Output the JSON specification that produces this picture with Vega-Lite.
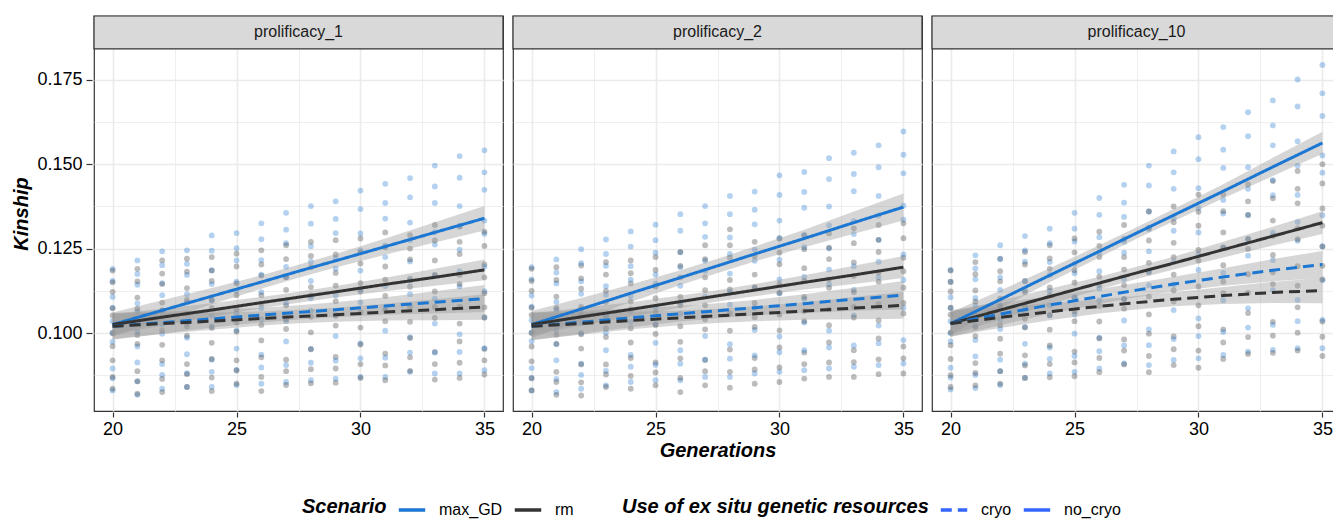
{
"$schema": "https://vega.github.io/schema/vega-lite/v6.json",
"padding": {"left": 11, "top": 14, "right": 0, "bottom": 8},
"background": "white",
"data": {"values": [
{"p":"prolificacy_1","g":20,"s":"max_GD","k":0.0830},{"p":"prolificacy_1","g":20,"s":"max_GD","k":0.0895},{"p":"prolificacy_1","g":20,"s":"max_GD","k":0.0974},{"p":"prolificacy_1","g":20,"s":"max_GD","k":0.1035},{"p":"prolificacy_1","g":20,"s":"max_GD","k":0.1107},{"p":"prolificacy_1","g":20,"s":"max_GD","k":0.1190},
{"p":"prolificacy_1","g":21,"s":"max_GD","k":0.0817},{"p":"prolificacy_1","g":21,"s":"max_GD","k":0.0913},{"p":"prolificacy_1","g":21,"s":"max_GD","k":0.0960},{"p":"prolificacy_1","g":21,"s":"max_GD","k":0.1064},{"p":"prolificacy_1","g":21,"s":"max_GD","k":0.1143},{"p":"prolificacy_1","g":21,"s":"max_GD","k":0.1215},
{"p":"prolificacy_1","g":22,"s":"max_GD","k":0.0835},{"p":"prolificacy_1","g":22,"s":"max_GD","k":0.0908},{"p":"prolificacy_1","g":22,"s":"max_GD","k":0.0998},{"p":"prolificacy_1","g":22,"s":"max_GD","k":0.1067},{"p":"prolificacy_1","g":22,"s":"max_GD","k":0.1148},{"p":"prolificacy_1","g":22,"s":"max_GD","k":0.1242},
{"p":"prolificacy_1","g":23,"s":"max_GD","k":0.0840},{"p":"prolificacy_1","g":23,"s":"max_GD","k":0.0937},{"p":"prolificacy_1","g":23,"s":"max_GD","k":0.0986},{"p":"prolificacy_1","g":23,"s":"max_GD","k":0.1091},{"p":"prolificacy_1","g":23,"s":"max_GD","k":0.1172},{"p":"prolificacy_1","g":23,"s":"max_GD","k":0.1245},
{"p":"prolificacy_1","g":24,"s":"max_GD","k":0.0840},{"p":"prolificacy_1","g":24,"s":"max_GD","k":0.0921},{"p":"prolificacy_1","g":24,"s":"max_GD","k":0.1020},{"p":"prolificacy_1","g":24,"s":"max_GD","k":0.1096},{"p":"prolificacy_1","g":24,"s":"max_GD","k":0.1186},{"p":"prolificacy_1","g":24,"s":"max_GD","k":0.1289},
{"p":"prolificacy_1","g":25,"s":"max_GD","k":0.0846},{"p":"prolificacy_1","g":25,"s":"max_GD","k":0.0954},{"p":"prolificacy_1","g":25,"s":"max_GD","k":0.1008},{"p":"prolificacy_1","g":25,"s":"max_GD","k":0.1125},{"p":"prolificacy_1","g":25,"s":"max_GD","k":0.1215},{"p":"prolificacy_1","g":25,"s":"max_GD","k":0.1296},
{"p":"prolificacy_1","g":26,"s":"max_GD","k":0.0850},{"p":"prolificacy_1","g":26,"s":"max_GD","k":0.0936},{"p":"prolificacy_1","g":26,"s":"max_GD","k":0.1040},{"p":"prolificacy_1","g":26,"s":"max_GD","k":0.1121},{"p":"prolificacy_1","g":26,"s":"max_GD","k":0.1216},{"p":"prolificacy_1","g":26,"s":"max_GD","k":0.1325},
{"p":"prolificacy_1","g":27,"s":"max_GD","k":0.0855},{"p":"prolificacy_1","g":27,"s":"max_GD","k":0.0975},{"p":"prolificacy_1","g":27,"s":"max_GD","k":0.1035},{"p":"prolificacy_1","g":27,"s":"max_GD","k":0.1166},{"p":"prolificacy_1","g":27,"s":"max_GD","k":0.1266},{"p":"prolificacy_1","g":27,"s":"max_GD","k":0.1356},
{"p":"prolificacy_1","g":28,"s":"max_GD","k":0.0860},{"p":"prolificacy_1","g":28,"s":"max_GD","k":0.0953},{"p":"prolificacy_1","g":28,"s":"max_GD","k":0.1066},{"p":"prolificacy_1","g":28,"s":"max_GD","k":0.1154},{"p":"prolificacy_1","g":28,"s":"max_GD","k":0.1257},{"p":"prolificacy_1","g":28,"s":"max_GD","k":0.1376},
{"p":"prolificacy_1","g":29,"s":"max_GD","k":0.0865},{"p":"prolificacy_1","g":29,"s":"max_GD","k":0.0991},{"p":"prolificacy_1","g":29,"s":"max_GD","k":0.1054},{"p":"prolificacy_1","g":29,"s":"max_GD","k":0.1191},{"p":"prolificacy_1","g":29,"s":"max_GD","k":0.1296},{"p":"prolificacy_1","g":29,"s":"max_GD","k":0.1390},
{"p":"prolificacy_1","g":30,"s":"max_GD","k":0.0870},{"p":"prolificacy_1","g":30,"s":"max_GD","k":0.0969},{"p":"prolificacy_1","g":30,"s":"max_GD","k":0.1091},{"p":"prolificacy_1","g":30,"s":"max_GD","k":0.1185},{"p":"prolificacy_1","g":30,"s":"max_GD","k":0.1295},{"p":"prolificacy_1","g":30,"s":"max_GD","k":0.1422},
{"p":"prolificacy_1","g":31,"s":"max_GD","k":0.0870},{"p":"prolificacy_1","g":31,"s":"max_GD","k":0.1007},{"p":"prolificacy_1","g":31,"s":"max_GD","k":0.1076},{"p":"prolificacy_1","g":31,"s":"max_GD","k":0.1225},{"p":"prolificacy_1","g":31,"s":"max_GD","k":0.1339},{"p":"prolificacy_1","g":31,"s":"max_GD","k":0.1442},
{"p":"prolificacy_1","g":32,"s":"max_GD","k":0.0885},{"p":"prolificacy_1","g":32,"s":"max_GD","k":0.0988},{"p":"prolificacy_1","g":32,"s":"max_GD","k":0.1115},{"p":"prolificacy_1","g":32,"s":"max_GD","k":0.1212},{"p":"prolificacy_1","g":32,"s":"max_GD","k":0.1327},{"p":"prolificacy_1","g":32,"s":"max_GD","k":0.1459},
{"p":"prolificacy_1","g":33,"s":"max_GD","k":0.0880},{"p":"prolificacy_1","g":33,"s":"max_GD","k":0.1028},{"p":"prolificacy_1","g":33,"s":"max_GD","k":0.1102},{"p":"prolificacy_1","g":33,"s":"max_GD","k":0.1262},{"p":"prolificacy_1","g":33,"s":"max_GD","k":0.1385},{"p":"prolificacy_1","g":33,"s":"max_GD","k":0.1496},
{"p":"prolificacy_1","g":34,"s":"max_GD","k":0.0880},{"p":"prolificacy_1","g":34,"s":"max_GD","k":0.0996},{"p":"prolificacy_1","g":34,"s":"max_GD","k":0.1138},{"p":"prolificacy_1","g":34,"s":"max_GD","k":0.1247},{"p":"prolificacy_1","g":34,"s":"max_GD","k":0.1376},{"p":"prolificacy_1","g":34,"s":"max_GD","k":0.1524},
{"p":"prolificacy_1","g":35,"s":"max_GD","k":0.0890},{"p":"prolificacy_1","g":35,"s":"max_GD","k":0.1046},{"p":"prolificacy_1","g":35,"s":"max_GD","k":0.1124},{"p":"prolificacy_1","g":35,"s":"max_GD","k":0.1294},{"p":"prolificacy_1","g":35,"s":"max_GD","k":0.1424},{"p":"prolificacy_1","g":35,"s":"max_GD","k":0.1541},
{"p":"prolificacy_1","g":20,"s":"rm","k":0.0835},{"p":"prolificacy_1","g":20,"s":"rm","k":0.0919},{"p":"prolificacy_1","g":20,"s":"rm","k":0.0961},{"p":"prolificacy_1","g":20,"s":"rm","k":0.1052},{"p":"prolificacy_1","g":20,"s":"rm","k":0.1122},{"p":"prolificacy_1","g":20,"s":"rm","k":0.1185},
{"p":"prolificacy_1","g":21,"s":"rm","k":0.0820},{"p":"prolificacy_1","g":21,"s":"rm","k":0.0887},{"p":"prolificacy_1","g":21,"s":"rm","k":0.0968},{"p":"prolificacy_1","g":21,"s":"rm","k":0.1031},{"p":"prolificacy_1","g":21,"s":"rm","k":0.1105},{"p":"prolificacy_1","g":21,"s":"rm","k":0.1190},
{"p":"prolificacy_1","g":22,"s":"rm","k":0.0825},{"p":"prolificacy_1","g":22,"s":"rm","k":0.0919},{"p":"prolificacy_1","g":22,"s":"rm","k":0.0965},{"p":"prolificacy_1","g":22,"s":"rm","k":0.1067},{"p":"prolificacy_1","g":22,"s":"rm","k":0.1145},{"p":"prolificacy_1","g":22,"s":"rm","k":0.1215},
{"p":"prolificacy_1","g":23,"s":"rm","k":0.0840},{"p":"prolificacy_1","g":23,"s":"rm","k":0.0908},{"p":"prolificacy_1","g":23,"s":"rm","k":0.0992},{"p":"prolificacy_1","g":23,"s":"rm","k":0.1057},{"p":"prolificacy_1","g":23,"s":"rm","k":0.1133},{"p":"prolificacy_1","g":23,"s":"rm","k":0.1220},
{"p":"prolificacy_1","g":24,"s":"rm","k":0.0828},{"p":"prolificacy_1","g":24,"s":"rm","k":0.0923},{"p":"prolificacy_1","g":24,"s":"rm","k":0.0971},{"p":"prolificacy_1","g":24,"s":"rm","k":0.1074},{"p":"prolificacy_1","g":24,"s":"rm","k":0.1154},{"p":"prolificacy_1","g":24,"s":"rm","k":0.1225},
{"p":"prolificacy_1","g":25,"s":"rm","k":0.0850},{"p":"prolificacy_1","g":25,"s":"rm","k":0.0919},{"p":"prolificacy_1","g":25,"s":"rm","k":0.1004},{"p":"prolificacy_1","g":25,"s":"rm","k":0.1070},{"p":"prolificacy_1","g":25,"s":"rm","k":0.1147},{"p":"prolificacy_1","g":25,"s":"rm","k":0.1235},
{"p":"prolificacy_1","g":26,"s":"rm","k":0.0828},{"p":"prolificacy_1","g":26,"s":"rm","k":0.0928},{"p":"prolificacy_1","g":26,"s":"rm","k":0.0978},{"p":"prolificacy_1","g":26,"s":"rm","k":0.1087},{"p":"prolificacy_1","g":26,"s":"rm","k":0.1170},{"p":"prolificacy_1","g":26,"s":"rm","k":0.1245},
{"p":"prolificacy_1","g":27,"s":"rm","k":0.0846},{"p":"prolificacy_1","g":27,"s":"rm","k":0.0921},{"p":"prolificacy_1","g":27,"s":"rm","k":0.1012},{"p":"prolificacy_1","g":27,"s":"rm","k":0.1082},{"p":"prolificacy_1","g":27,"s":"rm","k":0.1165},{"p":"prolificacy_1","g":27,"s":"rm","k":0.1260},
{"p":"prolificacy_1","g":28,"s":"rm","k":0.0851},{"p":"prolificacy_1","g":28,"s":"rm","k":0.0952},{"p":"prolificacy_1","g":28,"s":"rm","k":0.1002},{"p":"prolificacy_1","g":28,"s":"rm","k":0.1111},{"p":"prolificacy_1","g":28,"s":"rm","k":0.1195},{"p":"prolificacy_1","g":28,"s":"rm","k":0.1270},
{"p":"prolificacy_1","g":29,"s":"rm","k":0.0853},{"p":"prolificacy_1","g":29,"s":"rm","k":0.0929},{"p":"prolificacy_1","g":29,"s":"rm","k":0.1022},{"p":"prolificacy_1","g":29,"s":"rm","k":0.1094},{"p":"prolificacy_1","g":29,"s":"rm","k":0.1178},{"p":"prolificacy_1","g":29,"s":"rm","k":0.1275},
{"p":"prolificacy_1","g":30,"s":"rm","k":0.0867},{"p":"prolificacy_1","g":30,"s":"rm","k":0.0966},{"p":"prolificacy_1","g":30,"s":"rm","k":0.1016},{"p":"prolificacy_1","g":30,"s":"rm","k":0.1123},{"p":"prolificacy_1","g":30,"s":"rm","k":0.1206},{"p":"prolificacy_1","g":30,"s":"rm","k":0.1280},
{"p":"prolificacy_1","g":31,"s":"rm","k":0.0860},{"p":"prolificacy_1","g":31,"s":"rm","k":0.0939},{"p":"prolificacy_1","g":31,"s":"rm","k":0.1035},{"p":"prolificacy_1","g":31,"s":"rm","k":0.1110},{"p":"prolificacy_1","g":31,"s":"rm","k":0.1197},{"p":"prolificacy_1","g":31,"s":"rm","k":0.1298},
{"p":"prolificacy_1","g":32,"s":"rm","k":0.0888},{"p":"prolificacy_1","g":32,"s":"rm","k":0.0985},{"p":"prolificacy_1","g":32,"s":"rm","k":0.1033},{"p":"prolificacy_1","g":32,"s":"rm","k":0.1137},{"p":"prolificacy_1","g":32,"s":"rm","k":0.1218},{"p":"prolificacy_1","g":32,"s":"rm","k":0.1290},
{"p":"prolificacy_1","g":33,"s":"rm","k":0.0862},{"p":"prolificacy_1","g":33,"s":"rm","k":0.0944},{"p":"prolificacy_1","g":33,"s":"rm","k":0.1045},{"p":"prolificacy_1","g":33,"s":"rm","k":0.1123},{"p":"prolificacy_1","g":33,"s":"rm","k":0.1215},{"p":"prolificacy_1","g":33,"s":"rm","k":0.1320},
{"p":"prolificacy_1","g":34,"s":"rm","k":0.0867},{"p":"prolificacy_1","g":34,"s":"rm","k":0.0975},{"p":"prolificacy_1","g":34,"s":"rm","k":0.1028},{"p":"prolificacy_1","g":34,"s":"rm","k":0.1145},{"p":"prolificacy_1","g":34,"s":"rm","k":0.1234},{"p":"prolificacy_1","g":34,"s":"rm","k":0.1315},
{"p":"prolificacy_1","g":35,"s":"rm","k":0.0877},{"p":"prolificacy_1","g":35,"s":"rm","k":0.0953},{"p":"prolificacy_1","g":35,"s":"rm","k":0.1046},{"p":"prolificacy_1","g":35,"s":"rm","k":0.1118},{"p":"prolificacy_1","g":35,"s":"rm","k":0.1203},{"p":"prolificacy_1","g":35,"s":"rm","k":0.1300},
{"p":"prolificacy_2","g":20,"s":"max_GD","k":0.0830},{"p":"prolificacy_2","g":20,"s":"max_GD","k":0.0896},{"p":"prolificacy_2","g":20,"s":"max_GD","k":0.0976},{"p":"prolificacy_2","g":20,"s":"max_GD","k":0.1038},{"p":"prolificacy_2","g":20,"s":"max_GD","k":0.1111},{"p":"prolificacy_2","g":20,"s":"max_GD","k":0.1195},
{"p":"prolificacy_2","g":21,"s":"max_GD","k":0.0825},{"p":"prolificacy_2","g":21,"s":"max_GD","k":0.0919},{"p":"prolificacy_2","g":21,"s":"max_GD","k":0.0967},{"p":"prolificacy_2","g":21,"s":"max_GD","k":0.1069},{"p":"prolificacy_2","g":21,"s":"max_GD","k":0.1147},{"p":"prolificacy_2","g":21,"s":"max_GD","k":0.1218},
{"p":"prolificacy_2","g":22,"s":"max_GD","k":0.0835},{"p":"prolificacy_2","g":22,"s":"max_GD","k":0.0909},{"p":"prolificacy_2","g":22,"s":"max_GD","k":0.1000},{"p":"prolificacy_2","g":22,"s":"max_GD","k":0.1070},{"p":"prolificacy_2","g":22,"s":"max_GD","k":0.1153},{"p":"prolificacy_2","g":22,"s":"max_GD","k":0.1248},
{"p":"prolificacy_2","g":23,"s":"max_GD","k":0.0845},{"p":"prolificacy_2","g":23,"s":"max_GD","k":0.0949},{"p":"prolificacy_2","g":23,"s":"max_GD","k":0.1001},{"p":"prolificacy_2","g":23,"s":"max_GD","k":0.1113},{"p":"prolificacy_2","g":23,"s":"max_GD","k":0.1199},{"p":"prolificacy_2","g":23,"s":"max_GD","k":0.1277},
{"p":"prolificacy_2","g":24,"s":"max_GD","k":0.0855},{"p":"prolificacy_2","g":24,"s":"max_GD","k":0.0935},{"p":"prolificacy_2","g":24,"s":"max_GD","k":0.1033},{"p":"prolificacy_2","g":24,"s":"max_GD","k":0.1109},{"p":"prolificacy_2","g":24,"s":"max_GD","k":0.1198},{"p":"prolificacy_2","g":24,"s":"max_GD","k":0.1301},
{"p":"prolificacy_2","g":25,"s":"max_GD","k":0.0860},{"p":"prolificacy_2","g":25,"s":"max_GD","k":0.0971},{"p":"prolificacy_2","g":25,"s":"max_GD","k":0.1026},{"p":"prolificacy_2","g":25,"s":"max_GD","k":0.1146},{"p":"prolificacy_2","g":25,"s":"max_GD","k":0.1238},{"p":"prolificacy_2","g":25,"s":"max_GD","k":0.1321},
{"p":"prolificacy_2","g":26,"s":"max_GD","k":0.0860},{"p":"prolificacy_2","g":26,"s":"max_GD","k":0.0949},{"p":"prolificacy_2","g":26,"s":"max_GD","k":0.1057},{"p":"prolificacy_2","g":26,"s":"max_GD","k":0.1140},{"p":"prolificacy_2","g":26,"s":"max_GD","k":0.1239},{"p":"prolificacy_2","g":26,"s":"max_GD","k":0.1352},
{"p":"prolificacy_2","g":27,"s":"max_GD","k":0.0870},{"p":"prolificacy_2","g":27,"s":"max_GD","k":0.0991},{"p":"prolificacy_2","g":27,"s":"max_GD","k":0.1052},{"p":"prolificacy_2","g":27,"s":"max_GD","k":0.1184},{"p":"prolificacy_2","g":27,"s":"max_GD","k":0.1285},{"p":"prolificacy_2","g":27,"s":"max_GD","k":0.1376},
{"p":"prolificacy_2","g":28,"s":"max_GD","k":0.0870},{"p":"prolificacy_2","g":28,"s":"max_GD","k":0.0967},{"p":"prolificacy_2","g":28,"s":"max_GD","k":0.1084},{"p":"prolificacy_2","g":28,"s":"max_GD","k":0.1176},{"p":"prolificacy_2","g":28,"s":"max_GD","k":0.1283},{"p":"prolificacy_2","g":28,"s":"max_GD","k":0.1406},
{"p":"prolificacy_2","g":29,"s":"max_GD","k":0.0880},{"p":"prolificacy_2","g":29,"s":"max_GD","k":0.1009},{"p":"prolificacy_2","g":29,"s":"max_GD","k":0.1074},{"p":"prolificacy_2","g":29,"s":"max_GD","k":0.1214},{"p":"prolificacy_2","g":29,"s":"max_GD","k":0.1322},{"p":"prolificacy_2","g":29,"s":"max_GD","k":0.1419},
{"p":"prolificacy_2","g":30,"s":"max_GD","k":0.0885},{"p":"prolificacy_2","g":30,"s":"max_GD","k":0.0990},{"p":"prolificacy_2","g":30,"s":"max_GD","k":0.1118},{"p":"prolificacy_2","g":30,"s":"max_GD","k":0.1217},{"p":"prolificacy_2","g":30,"s":"max_GD","k":0.1333},{"p":"prolificacy_2","g":30,"s":"max_GD","k":0.1467},
{"p":"prolificacy_2","g":31,"s":"max_GD","k":0.0890},{"p":"prolificacy_2","g":31,"s":"max_GD","k":0.1031},{"p":"prolificacy_2","g":31,"s":"max_GD","k":0.1101},{"p":"prolificacy_2","g":31,"s":"max_GD","k":0.1254},{"p":"prolificacy_2","g":31,"s":"max_GD","k":0.1371},{"p":"prolificacy_2","g":31,"s":"max_GD","k":0.1477},
{"p":"prolificacy_2","g":32,"s":"max_GD","k":0.0895},{"p":"prolificacy_2","g":32,"s":"max_GD","k":0.1007},{"p":"prolificacy_2","g":32,"s":"max_GD","k":0.1144},{"p":"prolificacy_2","g":32,"s":"max_GD","k":0.1250},{"p":"prolificacy_2","g":32,"s":"max_GD","k":0.1375},{"p":"prolificacy_2","g":32,"s":"max_GD","k":0.1518},
{"p":"prolificacy_2","g":33,"s":"max_GD","k":0.0900},{"p":"prolificacy_2","g":33,"s":"max_GD","k":0.1052},{"p":"prolificacy_2","g":33,"s":"max_GD","k":0.1128},{"p":"prolificacy_2","g":33,"s":"max_GD","k":0.1293},{"p":"prolificacy_2","g":33,"s":"max_GD","k":0.1420},{"p":"prolificacy_2","g":33,"s":"max_GD","k":0.1534},
{"p":"prolificacy_2","g":34,"s":"max_GD","k":0.0905},{"p":"prolificacy_2","g":34,"s":"max_GD","k":0.1022},{"p":"prolificacy_2","g":34,"s":"max_GD","k":0.1165},{"p":"prolificacy_2","g":34,"s":"max_GD","k":0.1276},{"p":"prolificacy_2","g":34,"s":"max_GD","k":0.1406},{"p":"prolificacy_2","g":34,"s":"max_GD","k":0.1556},
{"p":"prolificacy_2","g":35,"s":"max_GD","k":0.0910},{"p":"prolificacy_2","g":35,"s":"max_GD","k":0.1075},{"p":"prolificacy_2","g":35,"s":"max_GD","k":0.1157},{"p":"prolificacy_2","g":35,"s":"max_GD","k":0.1336},{"p":"prolificacy_2","g":35,"s":"max_GD","k":0.1473},{"p":"prolificacy_2","g":35,"s":"max_GD","k":0.1597},
{"p":"prolificacy_2","g":20,"s":"rm","k":0.0830},{"p":"prolificacy_2","g":20,"s":"rm","k":0.0916},{"p":"prolificacy_2","g":20,"s":"rm","k":0.0960},{"p":"prolificacy_2","g":20,"s":"rm","k":0.1053},{"p":"prolificacy_2","g":20,"s":"rm","k":0.1125},{"p":"prolificacy_2","g":20,"s":"rm","k":0.1190},
{"p":"prolificacy_2","g":21,"s":"rm","k":0.0817},{"p":"prolificacy_2","g":21,"s":"rm","k":0.0885},{"p":"prolificacy_2","g":21,"s":"rm","k":0.0968},{"p":"prolificacy_2","g":21,"s":"rm","k":0.1033},{"p":"prolificacy_2","g":21,"s":"rm","k":0.1108},{"p":"prolificacy_2","g":21,"s":"rm","k":0.1195},
{"p":"prolificacy_2","g":22,"s":"rm","k":0.0815},{"p":"prolificacy_2","g":22,"s":"rm","k":0.0907},{"p":"prolificacy_2","g":22,"s":"rm","k":0.0954},{"p":"prolificacy_2","g":22,"s":"rm","k":0.1054},{"p":"prolificacy_2","g":22,"s":"rm","k":0.1131},{"p":"prolificacy_2","g":22,"s":"rm","k":0.1200},
{"p":"prolificacy_2","g":23,"s":"rm","k":0.0840},{"p":"prolificacy_2","g":23,"s":"rm","k":0.0907},{"p":"prolificacy_2","g":23,"s":"rm","k":0.0988},{"p":"prolificacy_2","g":23,"s":"rm","k":0.1051},{"p":"prolificacy_2","g":23,"s":"rm","k":0.1125},{"p":"prolificacy_2","g":23,"s":"rm","k":0.1210},
{"p":"prolificacy_2","g":24,"s":"rm","k":0.0835},{"p":"prolificacy_2","g":24,"s":"rm","k":0.0926},{"p":"prolificacy_2","g":24,"s":"rm","k":0.0972},{"p":"prolificacy_2","g":24,"s":"rm","k":0.1071},{"p":"prolificacy_2","g":24,"s":"rm","k":0.1147},{"p":"prolificacy_2","g":24,"s":"rm","k":0.1215},
{"p":"prolificacy_2","g":25,"s":"rm","k":0.0845},{"p":"prolificacy_2","g":25,"s":"rm","k":0.0913},{"p":"prolificacy_2","g":25,"s":"rm","k":0.0997},{"p":"prolificacy_2","g":25,"s":"rm","k":0.1062},{"p":"prolificacy_2","g":25,"s":"rm","k":0.1138},{"p":"prolificacy_2","g":25,"s":"rm","k":0.1225},
{"p":"prolificacy_2","g":26,"s":"rm","k":0.0825},{"p":"prolificacy_2","g":26,"s":"rm","k":0.0925},{"p":"prolificacy_2","g":26,"s":"rm","k":0.0974},{"p":"prolificacy_2","g":26,"s":"rm","k":0.1082},{"p":"prolificacy_2","g":26,"s":"rm","k":0.1165},{"p":"prolificacy_2","g":26,"s":"rm","k":0.1240},
{"p":"prolificacy_2","g":27,"s":"rm","k":0.0845},{"p":"prolificacy_2","g":27,"s":"rm","k":0.0920},{"p":"prolificacy_2","g":27,"s":"rm","k":0.1011},{"p":"prolificacy_2","g":27,"s":"rm","k":0.1082},{"p":"prolificacy_2","g":27,"s":"rm","k":0.1165},{"p":"prolificacy_2","g":27,"s":"rm","k":0.1260},
{"p":"prolificacy_2","g":28,"s":"rm","k":0.0838},{"p":"prolificacy_2","g":28,"s":"rm","k":0.0951},{"p":"prolificacy_2","g":28,"s":"rm","k":0.1007},{"p":"prolificacy_2","g":28,"s":"rm","k":0.1129},{"p":"prolificacy_2","g":28,"s":"rm","k":0.1223},{"p":"prolificacy_2","g":28,"s":"rm","k":0.1307},
{"p":"prolificacy_2","g":29,"s":"rm","k":0.0850},{"p":"prolificacy_2","g":29,"s":"rm","k":0.0926},{"p":"prolificacy_2","g":29,"s":"rm","k":0.1018},{"p":"prolificacy_2","g":29,"s":"rm","k":0.1089},{"p":"prolificacy_2","g":29,"s":"rm","k":0.1173},{"p":"prolificacy_2","g":29,"s":"rm","k":0.1270},
{"p":"prolificacy_2","g":30,"s":"rm","k":0.0855},{"p":"prolificacy_2","g":30,"s":"rm","k":0.0957},{"p":"prolificacy_2","g":30,"s":"rm","k":0.1008},{"p":"prolificacy_2","g":30,"s":"rm","k":0.1119},{"p":"prolificacy_2","g":30,"s":"rm","k":0.1204},{"p":"prolificacy_2","g":30,"s":"rm","k":0.1280},
{"p":"prolificacy_2","g":31,"s":"rm","k":0.0865},{"p":"prolificacy_2","g":31,"s":"rm","k":0.0942},{"p":"prolificacy_2","g":31,"s":"rm","k":0.1035},{"p":"prolificacy_2","g":31,"s":"rm","k":0.1107},{"p":"prolificacy_2","g":31,"s":"rm","k":0.1192},{"p":"prolificacy_2","g":31,"s":"rm","k":0.1290},
{"p":"prolificacy_2","g":32,"s":"rm","k":0.0870},{"p":"prolificacy_2","g":32,"s":"rm","k":0.0972},{"p":"prolificacy_2","g":32,"s":"rm","k":0.1023},{"p":"prolificacy_2","g":32,"s":"rm","k":0.1134},{"p":"prolificacy_2","g":32,"s":"rm","k":0.1219},{"p":"prolificacy_2","g":32,"s":"rm","k":0.1295},
{"p":"prolificacy_2","g":33,"s":"rm","k":0.0870},{"p":"prolificacy_2","g":33,"s":"rm","k":0.0949},{"p":"prolificacy_2","g":33,"s":"rm","k":0.1046},{"p":"prolificacy_2","g":33,"s":"rm","k":0.1121},{"p":"prolificacy_2","g":33,"s":"rm","k":0.1209},{"p":"prolificacy_2","g":33,"s":"rm","k":0.1310},
{"p":"prolificacy_2","g":34,"s":"rm","k":0.0878},{"p":"prolificacy_2","g":34,"s":"rm","k":0.0984},{"p":"prolificacy_2","g":34,"s":"rm","k":0.1037},{"p":"prolificacy_2","g":34,"s":"rm","k":0.1152},{"p":"prolificacy_2","g":34,"s":"rm","k":0.1240},{"p":"prolificacy_2","g":34,"s":"rm","k":0.1320},
{"p":"prolificacy_2","g":35,"s":"rm","k":0.0880},{"p":"prolificacy_2","g":35,"s":"rm","k":0.0960},{"p":"prolificacy_2","g":35,"s":"rm","k":0.1058},{"p":"prolificacy_2","g":35,"s":"rm","k":0.1134},{"p":"prolificacy_2","g":35,"s":"rm","k":0.1223},{"p":"prolificacy_2","g":35,"s":"rm","k":0.1325},
{"p":"prolificacy_10","g":20,"s":"max_GD","k":0.0833},{"p":"prolificacy_10","g":20,"s":"max_GD","k":0.0897},{"p":"prolificacy_10","g":20,"s":"max_GD","k":0.0975},{"p":"prolificacy_10","g":20,"s":"max_GD","k":0.1035},{"p":"prolificacy_10","g":20,"s":"max_GD","k":0.1106},{"p":"prolificacy_10","g":20,"s":"max_GD","k":0.1187},
{"p":"prolificacy_10","g":21,"s":"max_GD","k":0.0837},{"p":"prolificacy_10","g":21,"s":"max_GD","k":0.0931},{"p":"prolificacy_10","g":21,"s":"max_GD","k":0.0979},{"p":"prolificacy_10","g":21,"s":"max_GD","k":0.1081},{"p":"prolificacy_10","g":21,"s":"max_GD","k":0.1159},{"p":"prolificacy_10","g":21,"s":"max_GD","k":0.1230},
{"p":"prolificacy_10","g":22,"s":"max_GD","k":0.0846},{"p":"prolificacy_10","g":22,"s":"max_GD","k":0.0921},{"p":"prolificacy_10","g":22,"s":"max_GD","k":0.1012},{"p":"prolificacy_10","g":22,"s":"max_GD","k":0.1082},{"p":"prolificacy_10","g":22,"s":"max_GD","k":0.1165},{"p":"prolificacy_10","g":22,"s":"max_GD","k":0.1260},
{"p":"prolificacy_10","g":23,"s":"max_GD","k":0.0867},{"p":"prolificacy_10","g":23,"s":"max_GD","k":0.0968},{"p":"prolificacy_10","g":23,"s":"max_GD","k":0.1018},{"p":"prolificacy_10","g":23,"s":"max_GD","k":0.1127},{"p":"prolificacy_10","g":23,"s":"max_GD","k":0.1211},{"p":"prolificacy_10","g":23,"s":"max_GD","k":0.1287},
{"p":"prolificacy_10","g":24,"s":"max_GD","k":0.0880},{"p":"prolificacy_10","g":24,"s":"max_GD","k":0.0957},{"p":"prolificacy_10","g":24,"s":"max_GD","k":0.1052},{"p":"prolificacy_10","g":24,"s":"max_GD","k":0.1125},{"p":"prolificacy_10","g":24,"s":"max_GD","k":0.1210},{"p":"prolificacy_10","g":24,"s":"max_GD","k":0.1309},
{"p":"prolificacy_10","g":25,"s":"max_GD","k":0.0885},{"p":"prolificacy_10","g":25,"s":"max_GD","k":0.0998},{"p":"prolificacy_10","g":25,"s":"max_GD","k":0.1055},{"p":"prolificacy_10","g":25,"s":"max_GD","k":0.1177},{"p":"prolificacy_10","g":25,"s":"max_GD","k":0.1271},{"p":"prolificacy_10","g":25,"s":"max_GD","k":0.1356},
{"p":"prolificacy_10","g":26,"s":"max_GD","k":0.0895},{"p":"prolificacy_10","g":26,"s":"max_GD","k":0.0986},{"p":"prolificacy_10","g":26,"s":"max_GD","k":0.1097},{"p":"prolificacy_10","g":26,"s":"max_GD","k":0.1183},{"p":"prolificacy_10","g":26,"s":"max_GD","k":0.1284},{"p":"prolificacy_10","g":26,"s":"max_GD","k":0.1400},
{"p":"prolificacy_10","g":27,"s":"max_GD","k":0.0910},{"p":"prolificacy_10","g":27,"s":"max_GD","k":0.1037},{"p":"prolificacy_10","g":27,"s":"max_GD","k":0.1100},{"p":"prolificacy_10","g":27,"s":"max_GD","k":0.1238},{"p":"prolificacy_10","g":27,"s":"max_GD","k":0.1344},{"p":"prolificacy_10","g":27,"s":"max_GD","k":0.1439},
{"p":"prolificacy_10","g":28,"s":"max_GD","k":0.0905},{"p":"prolificacy_10","g":28,"s":"max_GD","k":0.1011},{"p":"prolificacy_10","g":28,"s":"max_GD","k":0.1141},{"p":"prolificacy_10","g":28,"s":"max_GD","k":0.1242},{"p":"prolificacy_10","g":28,"s":"max_GD","k":0.1360},{"p":"prolificacy_10","g":28,"s":"max_GD","k":0.1496},
{"p":"prolificacy_10","g":29,"s":"max_GD","k":0.0920},{"p":"prolificacy_10","g":29,"s":"max_GD","k":0.1068},{"p":"prolificacy_10","g":29,"s":"max_GD","k":0.1143},{"p":"prolificacy_10","g":29,"s":"max_GD","k":0.1303},{"p":"prolificacy_10","g":29,"s":"max_GD","k":0.1427},{"p":"prolificacy_10","g":29,"s":"max_GD","k":0.1538},
{"p":"prolificacy_10","g":30,"s":"max_GD","k":0.0925},{"p":"prolificacy_10","g":30,"s":"max_GD","k":0.1043},{"p":"prolificacy_10","g":30,"s":"max_GD","k":0.1187},{"p":"prolificacy_10","g":30,"s":"max_GD","k":0.1298},{"p":"prolificacy_10","g":30,"s":"max_GD","k":0.1429},{"p":"prolificacy_10","g":30,"s":"max_GD","k":0.1580},
{"p":"prolificacy_10","g":31,"s":"max_GD","k":0.0935},{"p":"prolificacy_10","g":31,"s":"max_GD","k":0.1097},{"p":"prolificacy_10","g":31,"s":"max_GD","k":0.1178},{"p":"prolificacy_10","g":31,"s":"max_GD","k":0.1354},{"p":"prolificacy_10","g":31,"s":"max_GD","k":0.1489},{"p":"prolificacy_10","g":31,"s":"max_GD","k":0.1610},
{"p":"prolificacy_10","g":32,"s":"max_GD","k":0.0945},{"p":"prolificacy_10","g":32,"s":"max_GD","k":0.1073},{"p":"prolificacy_10","g":32,"s":"max_GD","k":0.1229},{"p":"prolificacy_10","g":32,"s":"max_GD","k":0.1349},{"p":"prolificacy_10","g":32,"s":"max_GD","k":0.1491},{"p":"prolificacy_10","g":32,"s":"max_GD","k":0.1654},
{"p":"prolificacy_10","g":33,"s":"max_GD","k":0.0950},{"p":"prolificacy_10","g":33,"s":"max_GD","k":0.1127},{"p":"prolificacy_10","g":33,"s":"max_GD","k":0.1216},{"p":"prolificacy_10","g":33,"s":"max_GD","k":0.1408},{"p":"prolificacy_10","g":33,"s":"max_GD","k":0.1556},{"p":"prolificacy_10","g":33,"s":"max_GD","k":0.1689},
{"p":"prolificacy_10","g":34,"s":"max_GD","k":0.0955},{"p":"prolificacy_10","g":34,"s":"max_GD","k":0.1098},{"p":"prolificacy_10","g":34,"s":"max_GD","k":0.1273},{"p":"prolificacy_10","g":34,"s":"max_GD","k":0.1409},{"p":"prolificacy_10","g":34,"s":"max_GD","k":0.1568},{"p":"prolificacy_10","g":34,"s":"max_GD","k":0.1751},
{"p":"prolificacy_10","g":35,"s":"max_GD","k":0.0955},{"p":"prolificacy_10","g":35,"s":"max_GD","k":0.1156},{"p":"prolificacy_10","g":35,"s":"max_GD","k":0.1257},{"p":"prolificacy_10","g":35,"s":"max_GD","k":0.1475},{"p":"prolificacy_10","g":35,"s":"max_GD","k":0.1643},{"p":"prolificacy_10","g":35,"s":"max_GD","k":0.1794},
{"p":"prolificacy_10","g":20,"s":"rm","k":0.0840},{"p":"prolificacy_10","g":20,"s":"rm","k":0.0923},{"p":"prolificacy_10","g":20,"s":"rm","k":0.0964},{"p":"prolificacy_10","g":20,"s":"rm","k":0.1054},{"p":"prolificacy_10","g":20,"s":"rm","k":0.1123},{"p":"prolificacy_10","g":20,"s":"rm","k":0.1185},
{"p":"prolificacy_10","g":21,"s":"rm","k":0.0845},{"p":"prolificacy_10","g":21,"s":"rm","k":0.0911},{"p":"prolificacy_10","g":21,"s":"rm","k":0.0991},{"p":"prolificacy_10","g":21,"s":"rm","k":0.1053},{"p":"prolificacy_10","g":21,"s":"rm","k":0.1126},{"p":"prolificacy_10","g":21,"s":"rm","k":0.1210},
{"p":"prolificacy_10","g":22,"s":"rm","k":0.0850},{"p":"prolificacy_10","g":22,"s":"rm","k":0.0939},{"p":"prolificacy_10","g":22,"s":"rm","k":0.0983},{"p":"prolificacy_10","g":22,"s":"rm","k":0.1079},{"p":"prolificacy_10","g":22,"s":"rm","k":0.1153},{"p":"prolificacy_10","g":22,"s":"rm","k":0.1220},
{"p":"prolificacy_10","g":23,"s":"rm","k":0.0867},{"p":"prolificacy_10","g":23,"s":"rm","k":0.0934},{"p":"prolificacy_10","g":23,"s":"rm","k":0.1016},{"p":"prolificacy_10","g":23,"s":"rm","k":0.1080},{"p":"prolificacy_10","g":23,"s":"rm","k":0.1154},{"p":"prolificacy_10","g":23,"s":"rm","k":0.1240},
{"p":"prolificacy_10","g":24,"s":"rm","k":0.0869},{"p":"prolificacy_10","g":24,"s":"rm","k":0.0963},{"p":"prolificacy_10","g":24,"s":"rm","k":0.1010},{"p":"prolificacy_10","g":24,"s":"rm","k":0.1111},{"p":"prolificacy_10","g":24,"s":"rm","k":0.1190},{"p":"prolificacy_10","g":24,"s":"rm","k":0.1260},
{"p":"prolificacy_10","g":25,"s":"rm","k":0.0872},{"p":"prolificacy_10","g":25,"s":"rm","k":0.0945},{"p":"prolificacy_10","g":25,"s":"rm","k":0.1035},{"p":"prolificacy_10","g":25,"s":"rm","k":0.1105},{"p":"prolificacy_10","g":25,"s":"rm","k":0.1186},{"p":"prolificacy_10","g":25,"s":"rm","k":0.1280},
{"p":"prolificacy_10","g":26,"s":"rm","k":0.0884},{"p":"prolificacy_10","g":26,"s":"rm","k":0.0984},{"p":"prolificacy_10","g":26,"s":"rm","k":0.1034},{"p":"prolificacy_10","g":26,"s":"rm","k":0.1142},{"p":"prolificacy_10","g":26,"s":"rm","k":0.1225},{"p":"prolificacy_10","g":26,"s":"rm","k":0.1300},
{"p":"prolificacy_10","g":27,"s":"rm","k":0.0907},{"p":"prolificacy_10","g":27,"s":"rm","k":0.0981},{"p":"prolificacy_10","g":27,"s":"rm","k":0.1072},{"p":"prolificacy_10","g":27,"s":"rm","k":0.1142},{"p":"prolificacy_10","g":27,"s":"rm","k":0.1225},{"p":"prolificacy_10","g":27,"s":"rm","k":0.1320},
{"p":"prolificacy_10","g":28,"s":"rm","k":0.0884},{"p":"prolificacy_10","g":28,"s":"rm","k":0.0998},{"p":"prolificacy_10","g":28,"s":"rm","k":0.1055},{"p":"prolificacy_10","g":28,"s":"rm","k":0.1179},{"p":"prolificacy_10","g":28,"s":"rm","k":0.1274},{"p":"prolificacy_10","g":28,"s":"rm","k":0.1360},
{"p":"prolificacy_10","g":29,"s":"rm","k":0.0905},{"p":"prolificacy_10","g":29,"s":"rm","k":0.0990},{"p":"prolificacy_10","g":29,"s":"rm","k":0.1093},{"p":"prolificacy_10","g":29,"s":"rm","k":0.1173},{"p":"prolificacy_10","g":29,"s":"rm","k":0.1267},{"p":"prolificacy_10","g":29,"s":"rm","k":0.1375},
{"p":"prolificacy_10","g":30,"s":"rm","k":0.0897},{"p":"prolificacy_10","g":30,"s":"rm","k":0.1020},{"p":"prolificacy_10","g":30,"s":"rm","k":0.1082},{"p":"prolificacy_10","g":30,"s":"rm","k":0.1215},{"p":"prolificacy_10","g":30,"s":"rm","k":0.1318},{"p":"prolificacy_10","g":30,"s":"rm","k":0.1410},
{"p":"prolificacy_10","g":31,"s":"rm","k":0.0923},{"p":"prolificacy_10","g":31,"s":"rm","k":0.1011},{"p":"prolificacy_10","g":31,"s":"rm","k":0.1118},{"p":"prolificacy_10","g":31,"s":"rm","k":0.1201},{"p":"prolificacy_10","g":31,"s":"rm","k":0.1298},{"p":"prolificacy_10","g":31,"s":"rm","k":0.1410},
{"p":"prolificacy_10","g":32,"s":"rm","k":0.0938},{"p":"prolificacy_10","g":32,"s":"rm","k":0.1059},{"p":"prolificacy_10","g":32,"s":"rm","k":0.1119},{"p":"prolificacy_10","g":32,"s":"rm","k":0.1249},{"p":"prolificacy_10","g":32,"s":"rm","k":0.1350},{"p":"prolificacy_10","g":32,"s":"rm","k":0.1440},
{"p":"prolificacy_10","g":33,"s":"rm","k":0.0941},{"p":"prolificacy_10","g":33,"s":"rm","k":0.1033},{"p":"prolificacy_10","g":33,"s":"rm","k":0.1145},{"p":"prolificacy_10","g":33,"s":"rm","k":0.1231},{"p":"prolificacy_10","g":33,"s":"rm","k":0.1333},{"p":"prolificacy_10","g":33,"s":"rm","k":0.1450},
{"p":"prolificacy_10","g":34,"s":"rm","k":0.0948},{"p":"prolificacy_10","g":34,"s":"rm","k":0.1076},{"p":"prolificacy_10","g":34,"s":"rm","k":0.1140},{"p":"prolificacy_10","g":34,"s":"rm","k":0.1278},{"p":"prolificacy_10","g":34,"s":"rm","k":0.1384},{"p":"prolificacy_10","g":34,"s":"rm","k":0.1480},
{"p":"prolificacy_10","g":35,"s":"rm","k":0.0932},{"p":"prolificacy_10","g":35,"s":"rm","k":0.1034},{"p":"prolificacy_10","g":35,"s":"rm","k":0.1159},{"p":"prolificacy_10","g":35,"s":"rm","k":0.1256},{"p":"prolificacy_10","g":35,"s":"rm","k":0.1369},{"p":"prolificacy_10","g":35,"s":"rm","k":0.1500},
{"p":"prolificacy_1","g":20,"s":"max_GD","k":0.0866},{"p":"prolificacy_1","g":20,"s":"max_GD","k":0.1000},{"p":"prolificacy_1","g":20,"s":"max_GD","k":0.1075},{"p":"prolificacy_1","g":20,"s":"max_GD","k":0.1154},
{"p":"prolificacy_1","g":21,"s":"max_GD","k":0.0857},{"p":"prolificacy_1","g":21,"s":"max_GD","k":0.1004},{"p":"prolificacy_1","g":21,"s":"max_GD","k":0.1088},{"p":"prolificacy_1","g":21,"s":"max_GD","k":0.1175},
{"p":"prolificacy_1","g":22,"s":"max_GD","k":0.0876},{"p":"prolificacy_1","g":22,"s":"max_GD","k":0.1026},{"p":"prolificacy_1","g":22,"s":"max_GD","k":0.1112},{"p":"prolificacy_1","g":22,"s":"max_GD","k":0.1201},
{"p":"prolificacy_1","g":23,"s":"max_GD","k":0.0881},{"p":"prolificacy_1","g":23,"s":"max_GD","k":0.1030},{"p":"prolificacy_1","g":23,"s":"max_GD","k":0.1115},{"p":"prolificacy_1","g":23,"s":"max_GD","k":0.1205},
{"p":"prolificacy_1","g":24,"s":"max_GD","k":0.0885},{"p":"prolificacy_1","g":24,"s":"max_GD","k":0.1051},{"p":"prolificacy_1","g":24,"s":"max_GD","k":0.1145},{"p":"prolificacy_1","g":24,"s":"max_GD","k":0.1244},
{"p":"prolificacy_1","g":25,"s":"max_GD","k":0.0891},{"p":"prolificacy_1","g":25,"s":"max_GD","k":0.1058},{"p":"prolificacy_1","g":25,"s":"max_GD","k":0.1152},{"p":"prolificacy_1","g":25,"s":"max_GD","k":0.1251},
{"p":"prolificacy_1","g":26,"s":"max_GD","k":0.0898},{"p":"prolificacy_1","g":26,"s":"max_GD","k":0.1073},{"p":"prolificacy_1","g":26,"s":"max_GD","k":0.1173},{"p":"prolificacy_1","g":26,"s":"max_GD","k":0.1278},
{"p":"prolificacy_1","g":27,"s":"max_GD","k":0.0905},{"p":"prolificacy_1","g":27,"s":"max_GD","k":0.1090},{"p":"prolificacy_1","g":27,"s":"max_GD","k":0.1196},{"p":"prolificacy_1","g":27,"s":"max_GD","k":0.1306},
{"p":"prolificacy_1","g":28,"s":"max_GD","k":0.0912},{"p":"prolificacy_1","g":28,"s":"max_GD","k":0.1103},{"p":"prolificacy_1","g":28,"s":"max_GD","k":0.1211},{"p":"prolificacy_1","g":28,"s":"max_GD","k":0.1324},
{"p":"prolificacy_1","g":29,"s":"max_GD","k":0.0918},{"p":"prolificacy_1","g":29,"s":"max_GD","k":0.1112},{"p":"prolificacy_1","g":29,"s":"max_GD","k":0.1222},{"p":"prolificacy_1","g":29,"s":"max_GD","k":0.1338},
{"p":"prolificacy_1","g":30,"s":"max_GD","k":0.0925},{"p":"prolificacy_1","g":30,"s":"max_GD","k":0.1129},{"p":"prolificacy_1","g":30,"s":"max_GD","k":0.1245},{"p":"prolificacy_1","g":30,"s":"max_GD","k":0.1367},
{"p":"prolificacy_1","g":31,"s":"max_GD","k":0.0927},{"p":"prolificacy_1","g":31,"s":"max_GD","k":0.1139},{"p":"prolificacy_1","g":31,"s":"max_GD","k":0.1259},{"p":"prolificacy_1","g":31,"s":"max_GD","k":0.1385},
{"p":"prolificacy_1","g":32,"s":"max_GD","k":0.0942},{"p":"prolificacy_1","g":32,"s":"max_GD","k":0.1155},{"p":"prolificacy_1","g":32,"s":"max_GD","k":0.1275},{"p":"prolificacy_1","g":32,"s":"max_GD","k":0.1402},
{"p":"prolificacy_1","g":33,"s":"max_GD","k":0.0942},{"p":"prolificacy_1","g":33,"s":"max_GD","k":0.1170},{"p":"prolificacy_1","g":33,"s":"max_GD","k":0.1299},{"p":"prolificacy_1","g":33,"s":"max_GD","k":0.1434},
{"p":"prolificacy_1","g":34,"s":"max_GD","k":0.0944},{"p":"prolificacy_1","g":34,"s":"max_GD","k":0.1183},{"p":"prolificacy_1","g":34,"s":"max_GD","k":0.1318},{"p":"prolificacy_1","g":34,"s":"max_GD","k":0.1460},
{"p":"prolificacy_1","g":35,"s":"max_GD","k":0.0955},{"p":"prolificacy_1","g":35,"s":"max_GD","k":0.1196},{"p":"prolificacy_1","g":35,"s":"max_GD","k":0.1333},{"p":"prolificacy_1","g":35,"s":"max_GD","k":0.1476},
{"p":"prolificacy_1","g":20,"s":"rm","k":0.0870},{"p":"prolificacy_1","g":20,"s":"rm","k":0.1000},{"p":"prolificacy_1","g":20,"s":"rm","k":0.1073},{"p":"prolificacy_1","g":20,"s":"rm","k":0.1150},
{"p":"prolificacy_1","g":21,"s":"rm","k":0.0857},{"p":"prolificacy_1","g":21,"s":"rm","k":0.0994},{"p":"prolificacy_1","g":21,"s":"rm","k":0.1072},{"p":"prolificacy_1","g":21,"s":"rm","k":0.1153},
{"p":"prolificacy_1","g":22,"s":"rm","k":0.0864},{"p":"prolificacy_1","g":22,"s":"rm","k":0.1008},{"p":"prolificacy_1","g":22,"s":"rm","k":0.1090},{"p":"prolificacy_1","g":22,"s":"rm","k":0.1176},
{"p":"prolificacy_1","g":23,"s":"rm","k":0.0878},{"p":"prolificacy_1","g":23,"s":"rm","k":0.1019},{"p":"prolificacy_1","g":23,"s":"rm","k":0.1098},{"p":"prolificacy_1","g":23,"s":"rm","k":0.1182},
{"p":"prolificacy_1","g":24,"s":"rm","k":0.0868},{"p":"prolificacy_1","g":24,"s":"rm","k":0.1015},{"p":"prolificacy_1","g":24,"s":"rm","k":0.1098},{"p":"prolificacy_1","g":24,"s":"rm","k":0.1185},
{"p":"prolificacy_1","g":25,"s":"rm","k":0.0889},{"p":"prolificacy_1","g":25,"s":"rm","k":0.1031},{"p":"prolificacy_1","g":25,"s":"rm","k":0.1112},{"p":"prolificacy_1","g":25,"s":"rm","k":0.1197},
{"p":"prolificacy_1","g":26,"s":"rm","k":0.0870},{"p":"prolificacy_1","g":26,"s":"rm","k":0.1024},{"p":"prolificacy_1","g":26,"s":"rm","k":0.1112},{"p":"prolificacy_1","g":26,"s":"rm","k":0.1203},
{"p":"prolificacy_1","g":27,"s":"rm","k":0.0887},{"p":"prolificacy_1","g":27,"s":"rm","k":0.1041},{"p":"prolificacy_1","g":27,"s":"rm","k":0.1128},{"p":"prolificacy_1","g":27,"s":"rm","k":0.1219},
{"p":"prolificacy_1","g":28,"s":"rm","k":0.0893},{"p":"prolificacy_1","g":28,"s":"rm","k":0.1048},{"p":"prolificacy_1","g":28,"s":"rm","k":0.1136},{"p":"prolificacy_1","g":28,"s":"rm","k":0.1228},
{"p":"prolificacy_1","g":29,"s":"rm","k":0.0895},{"p":"prolificacy_1","g":29,"s":"rm","k":0.1051},{"p":"prolificacy_1","g":29,"s":"rm","k":0.1140},{"p":"prolificacy_1","g":29,"s":"rm","k":0.1233},
{"p":"prolificacy_1","g":30,"s":"rm","k":0.0908},{"p":"prolificacy_1","g":30,"s":"rm","k":0.1061},{"p":"prolificacy_1","g":30,"s":"rm","k":0.1148},{"p":"prolificacy_1","g":30,"s":"rm","k":0.1239},
{"p":"prolificacy_1","g":31,"s":"rm","k":0.0904},{"p":"prolificacy_1","g":31,"s":"rm","k":0.1066},{"p":"prolificacy_1","g":31,"s":"rm","k":0.1158},{"p":"prolificacy_1","g":31,"s":"rm","k":0.1254},
{"p":"prolificacy_1","g":32,"s":"rm","k":0.0928},{"p":"prolificacy_1","g":32,"s":"rm","k":0.1077},{"p":"prolificacy_1","g":32,"s":"rm","k":0.1161},{"p":"prolificacy_1","g":32,"s":"rm","k":0.1250},
{"p":"prolificacy_1","g":33,"s":"rm","k":0.0908},{"p":"prolificacy_1","g":33,"s":"rm","k":0.1077},{"p":"prolificacy_1","g":33,"s":"rm","k":0.1173},{"p":"prolificacy_1","g":33,"s":"rm","k":0.1274},
{"p":"prolificacy_1","g":34,"s":"rm","k":0.0912},{"p":"prolificacy_1","g":34,"s":"rm","k":0.1078},{"p":"prolificacy_1","g":34,"s":"rm","k":0.1172},{"p":"prolificacy_1","g":34,"s":"rm","k":0.1270},
{"p":"prolificacy_1","g":35,"s":"rm","k":0.0919},{"p":"prolificacy_1","g":35,"s":"rm","k":0.1076},{"p":"prolificacy_1","g":35,"s":"rm","k":0.1165},{"p":"prolificacy_1","g":35,"s":"rm","k":0.1258},
{"p":"prolificacy_2","g":20,"s":"max_GD","k":0.0867},{"p":"prolificacy_2","g":20,"s":"max_GD","k":0.1002},{"p":"prolificacy_2","g":20,"s":"max_GD","k":0.1078},{"p":"prolificacy_2","g":20,"s":"max_GD","k":0.1159},
{"p":"prolificacy_2","g":21,"s":"max_GD","k":0.0864},{"p":"prolificacy_2","g":21,"s":"max_GD","k":0.1010},{"p":"prolificacy_2","g":21,"s":"max_GD","k":0.1092},{"p":"prolificacy_2","g":21,"s":"max_GD","k":0.1179},
{"p":"prolificacy_2","g":22,"s":"max_GD","k":0.0876},{"p":"prolificacy_2","g":22,"s":"max_GD","k":0.1029},{"p":"prolificacy_2","g":22,"s":"max_GD","k":0.1116},{"p":"prolificacy_2","g":22,"s":"max_GD","k":0.1207},
{"p":"prolificacy_2","g":23,"s":"max_GD","k":0.0888},{"p":"prolificacy_2","g":23,"s":"max_GD","k":0.1048},{"p":"prolificacy_2","g":23,"s":"max_GD","k":0.1139},{"p":"prolificacy_2","g":23,"s":"max_GD","k":0.1234},
{"p":"prolificacy_2","g":24,"s":"max_GD","k":0.0900},{"p":"prolificacy_2","g":24,"s":"max_GD","k":0.1065},{"p":"prolificacy_2","g":24,"s":"max_GD","k":0.1158},{"p":"prolificacy_2","g":24,"s":"max_GD","k":0.1256},
{"p":"prolificacy_2","g":25,"s":"max_GD","k":0.0906},{"p":"prolificacy_2","g":25,"s":"max_GD","k":0.1077},{"p":"prolificacy_2","g":25,"s":"max_GD","k":0.1173},{"p":"prolificacy_2","g":25,"s":"max_GD","k":0.1275},
{"p":"prolificacy_2","g":26,"s":"max_GD","k":0.0909},{"p":"prolificacy_2","g":26,"s":"max_GD","k":0.1091},{"p":"prolificacy_2","g":26,"s":"max_GD","k":0.1195},{"p":"prolificacy_2","g":26,"s":"max_GD","k":0.1303},
{"p":"prolificacy_2","g":27,"s":"max_GD","k":0.0921},{"p":"prolificacy_2","g":27,"s":"max_GD","k":0.1108},{"p":"prolificacy_2","g":27,"s":"max_GD","k":0.1214},{"p":"prolificacy_2","g":27,"s":"max_GD","k":0.1325},
{"p":"prolificacy_2","g":28,"s":"max_GD","k":0.0924},{"p":"prolificacy_2","g":28,"s":"max_GD","k":0.1122},{"p":"prolificacy_2","g":28,"s":"max_GD","k":0.1234},{"p":"prolificacy_2","g":28,"s":"max_GD","k":0.1352},
{"p":"prolificacy_2","g":29,"s":"max_GD","k":0.0934},{"p":"prolificacy_2","g":29,"s":"max_GD","k":0.1133},{"p":"prolificacy_2","g":29,"s":"max_GD","k":0.1247},{"p":"prolificacy_2","g":29,"s":"max_GD","k":0.1365},
{"p":"prolificacy_2","g":30,"s":"max_GD","k":0.0943},{"p":"prolificacy_2","g":30,"s":"max_GD","k":0.1159},{"p":"prolificacy_2","g":30,"s":"max_GD","k":0.1281},{"p":"prolificacy_2","g":30,"s":"max_GD","k":0.1409},
{"p":"prolificacy_2","g":31,"s":"max_GD","k":0.0949},{"p":"prolificacy_2","g":31,"s":"max_GD","k":0.1166},{"p":"prolificacy_2","g":31,"s":"max_GD","k":0.1289},{"p":"prolificacy_2","g":31,"s":"max_GD","k":0.1418},
{"p":"prolificacy_2","g":32,"s":"max_GD","k":0.0957},{"p":"prolificacy_2","g":32,"s":"max_GD","k":0.1188},{"p":"prolificacy_2","g":32,"s":"max_GD","k":0.1319},{"p":"prolificacy_2","g":32,"s":"max_GD","k":0.1456},
{"p":"prolificacy_2","g":33,"s":"max_GD","k":0.0963},{"p":"prolificacy_2","g":33,"s":"max_GD","k":0.1198},{"p":"prolificacy_2","g":33,"s":"max_GD","k":0.1331},{"p":"prolificacy_2","g":33,"s":"max_GD","k":0.1471},
{"p":"prolificacy_2","g":34,"s":"max_GD","k":0.0970},{"p":"prolificacy_2","g":34,"s":"max_GD","k":0.1211},{"p":"prolificacy_2","g":34,"s":"max_GD","k":0.1348},{"p":"prolificacy_2","g":34,"s":"max_GD","k":0.1491},
{"p":"prolificacy_2","g":35,"s":"max_GD","k":0.0979},{"p":"prolificacy_2","g":35,"s":"max_GD","k":0.1233},{"p":"prolificacy_2","g":35,"s":"max_GD","k":0.1377},{"p":"prolificacy_2","g":35,"s":"max_GD","k":0.1528},
{"p":"prolificacy_2","g":20,"s":"rm","k":0.0866},{"p":"prolificacy_2","g":20,"s":"rm","k":0.1000},{"p":"prolificacy_2","g":20,"s":"rm","k":0.1075},{"p":"prolificacy_2","g":20,"s":"rm","k":0.1154},
{"p":"prolificacy_2","g":21,"s":"rm","k":0.0855},{"p":"prolificacy_2","g":21,"s":"rm","k":0.0995},{"p":"prolificacy_2","g":21,"s":"rm","k":0.1074},{"p":"prolificacy_2","g":21,"s":"rm","k":0.1157},
{"p":"prolificacy_2","g":22,"s":"rm","k":0.0854},{"p":"prolificacy_2","g":22,"s":"rm","k":0.0996},{"p":"prolificacy_2","g":22,"s":"rm","k":0.1077},{"p":"prolificacy_2","g":22,"s":"rm","k":0.1162},
{"p":"prolificacy_2","g":23,"s":"rm","k":0.0877},{"p":"prolificacy_2","g":23,"s":"rm","k":0.1014},{"p":"prolificacy_2","g":23,"s":"rm","k":0.1092},{"p":"prolificacy_2","g":23,"s":"rm","k":0.1173},
{"p":"prolificacy_2","g":24,"s":"rm","k":0.0873},{"p":"prolificacy_2","g":24,"s":"rm","k":0.1014},{"p":"prolificacy_2","g":24,"s":"rm","k":0.1093},{"p":"prolificacy_2","g":24,"s":"rm","k":0.1177},
{"p":"prolificacy_2","g":25,"s":"rm","k":0.0883},{"p":"prolificacy_2","g":25,"s":"rm","k":0.1024},{"p":"prolificacy_2","g":25,"s":"rm","k":0.1103},{"p":"prolificacy_2","g":25,"s":"rm","k":0.1187},
{"p":"prolificacy_2","g":26,"s":"rm","k":0.0867},{"p":"prolificacy_2","g":26,"s":"rm","k":0.1020},{"p":"prolificacy_2","g":26,"s":"rm","k":0.1107},{"p":"prolificacy_2","g":26,"s":"rm","k":0.1199},
{"p":"prolificacy_2","g":27,"s":"rm","k":0.0887},{"p":"prolificacy_2","g":27,"s":"rm","k":0.1040},{"p":"prolificacy_2","g":27,"s":"rm","k":0.1127},{"p":"prolificacy_2","g":27,"s":"rm","k":0.1219},
{"p":"prolificacy_2","g":28,"s":"rm","k":0.0885},{"p":"prolificacy_2","g":28,"s":"rm","k":0.1058},{"p":"prolificacy_2","g":28,"s":"rm","k":0.1157},{"p":"prolificacy_2","g":28,"s":"rm","k":0.1260},
{"p":"prolificacy_2","g":29,"s":"rm","k":0.0892},{"p":"prolificacy_2","g":29,"s":"rm","k":0.1047},{"p":"prolificacy_2","g":29,"s":"rm","k":0.1136},{"p":"prolificacy_2","g":29,"s":"rm","k":0.1228},
{"p":"prolificacy_2","g":30,"s":"rm","k":0.0898},{"p":"prolificacy_2","g":30,"s":"rm","k":0.1055},{"p":"prolificacy_2","g":30,"s":"rm","k":0.1144},{"p":"prolificacy_2","g":30,"s":"rm","k":0.1238},
{"p":"prolificacy_2","g":31,"s":"rm","k":0.0908},{"p":"prolificacy_2","g":31,"s":"rm","k":0.1065},{"p":"prolificacy_2","g":31,"s":"rm","k":0.1154},{"p":"prolificacy_2","g":31,"s":"rm","k":0.1248},
{"p":"prolificacy_2","g":32,"s":"rm","k":0.0913},{"p":"prolificacy_2","g":32,"s":"rm","k":0.1070},{"p":"prolificacy_2","g":32,"s":"rm","k":0.1159},{"p":"prolificacy_2","g":32,"s":"rm","k":0.1253},
{"p":"prolificacy_2","g":33,"s":"rm","k":0.0914},{"p":"prolificacy_2","g":33,"s":"rm","k":0.1077},{"p":"prolificacy_2","g":33,"s":"rm","k":0.1169},{"p":"prolificacy_2","g":33,"s":"rm","k":0.1266},
{"p":"prolificacy_2","g":34,"s":"rm","k":0.0922},{"p":"prolificacy_2","g":34,"s":"rm","k":0.1086},{"p":"prolificacy_2","g":34,"s":"rm","k":0.1179},{"p":"prolificacy_2","g":34,"s":"rm","k":0.1276},
{"p":"prolificacy_2","g":35,"s":"rm","k":0.0925},{"p":"prolificacy_2","g":35,"s":"rm","k":0.1089},{"p":"prolificacy_2","g":35,"s":"rm","k":0.1183},{"p":"prolificacy_2","g":35,"s":"rm","k":0.1281},
{"p":"prolificacy_10","g":20,"s":"max_GD","k":0.0868},{"p":"prolificacy_10","g":20,"s":"max_GD","k":0.0999},{"p":"prolificacy_10","g":20,"s":"max_GD","k":0.1074},{"p":"prolificacy_10","g":20,"s":"max_GD","k":0.1152},
{"p":"prolificacy_10","g":21,"s":"max_GD","k":0.0876},{"p":"prolificacy_10","g":21,"s":"max_GD","k":0.1022},{"p":"prolificacy_10","g":21,"s":"max_GD","k":0.1104},{"p":"prolificacy_10","g":21,"s":"max_GD","k":0.1191},
{"p":"prolificacy_10","g":22,"s":"max_GD","k":0.0887},{"p":"prolificacy_10","g":22,"s":"max_GD","k":0.1041},{"p":"prolificacy_10","g":22,"s":"max_GD","k":0.1128},{"p":"prolificacy_10","g":22,"s":"max_GD","k":0.1219},
{"p":"prolificacy_10","g":23,"s":"max_GD","k":0.0909},{"p":"prolificacy_10","g":23,"s":"max_GD","k":0.1064},{"p":"prolificacy_10","g":23,"s":"max_GD","k":0.1153},{"p":"prolificacy_10","g":23,"s":"max_GD","k":0.1245},
{"p":"prolificacy_10","g":24,"s":"max_GD","k":0.0923},{"p":"prolificacy_10","g":24,"s":"max_GD","k":0.1082},{"p":"prolificacy_10","g":24,"s":"max_GD","k":0.1172},{"p":"prolificacy_10","g":24,"s":"max_GD","k":0.1266},
{"p":"prolificacy_10","g":25,"s":"max_GD","k":0.0932},{"p":"prolificacy_10","g":25,"s":"max_GD","k":0.1106},{"p":"prolificacy_10","g":25,"s":"max_GD","k":0.1205},{"p":"prolificacy_10","g":25,"s":"max_GD","k":0.1309},
{"p":"prolificacy_10","g":26,"s":"max_GD","k":0.0946},{"p":"prolificacy_10","g":26,"s":"max_GD","k":0.1132},{"p":"prolificacy_10","g":26,"s":"max_GD","k":0.1238},{"p":"prolificacy_10","g":26,"s":"max_GD","k":0.1350},
{"p":"prolificacy_10","g":27,"s":"max_GD","k":0.0963},{"p":"prolificacy_10","g":27,"s":"max_GD","k":0.1159},{"p":"prolificacy_10","g":27,"s":"max_GD","k":0.1270},{"p":"prolificacy_10","g":27,"s":"max_GD","k":0.1386},
{"p":"prolificacy_10","g":28,"s":"max_GD","k":0.0964},{"p":"prolificacy_10","g":28,"s":"max_GD","k":0.1183},{"p":"prolificacy_10","g":28,"s":"max_GD","k":0.1307},{"p":"prolificacy_10","g":28,"s":"max_GD","k":0.1437},
{"p":"prolificacy_10","g":29,"s":"max_GD","k":0.0982},{"p":"prolificacy_10","g":29,"s":"max_GD","k":0.1210},{"p":"prolificacy_10","g":29,"s":"max_GD","k":0.1340},{"p":"prolificacy_10","g":29,"s":"max_GD","k":0.1476},
{"p":"prolificacy_10","g":30,"s":"max_GD","k":0.0991},{"p":"prolificacy_10","g":30,"s":"max_GD","k":0.1233},{"p":"prolificacy_10","g":30,"s":"max_GD","k":0.1370},{"p":"prolificacy_10","g":30,"s":"max_GD","k":0.1515},
{"p":"prolificacy_10","g":31,"s":"max_GD","k":0.1003},{"p":"prolificacy_10","g":31,"s":"max_GD","k":0.1252},{"p":"prolificacy_10","g":31,"s":"max_GD","k":0.1394},{"p":"prolificacy_10","g":31,"s":"max_GD","k":0.1543},
{"p":"prolificacy_10","g":32,"s":"max_GD","k":0.1016},{"p":"prolificacy_10","g":32,"s":"max_GD","k":0.1278},{"p":"prolificacy_10","g":32,"s":"max_GD","k":0.1427},{"p":"prolificacy_10","g":32,"s":"max_GD","k":0.1583},
{"p":"prolificacy_10","g":33,"s":"max_GD","k":0.1024},{"p":"prolificacy_10","g":33,"s":"max_GD","k":0.1297},{"p":"prolificacy_10","g":33,"s":"max_GD","k":0.1453},{"p":"prolificacy_10","g":33,"s":"max_GD","k":0.1615},
{"p":"prolificacy_10","g":34,"s":"max_GD","k":0.1035},{"p":"prolificacy_10","g":34,"s":"max_GD","k":0.1329},{"p":"prolificacy_10","g":34,"s":"max_GD","k":0.1496},{"p":"prolificacy_10","g":34,"s":"max_GD","k":0.1671},
{"p":"prolificacy_10","g":35,"s":"max_GD","k":0.1039},{"p":"prolificacy_10","g":35,"s":"max_GD","k":0.1349},{"p":"prolificacy_10","g":35,"s":"max_GD","k":0.1526},{"p":"prolificacy_10","g":35,"s":"max_GD","k":0.1710},
{"p":"prolificacy_10","g":20,"s":"rm","k":0.0875},{"p":"prolificacy_10","g":20,"s":"rm","k":0.1002},{"p":"prolificacy_10","g":20,"s":"rm","k":0.1075},{"p":"prolificacy_10","g":20,"s":"rm","k":0.1151},
{"p":"prolificacy_10","g":21,"s":"rm","k":0.0882},{"p":"prolificacy_10","g":21,"s":"rm","k":0.1017},{"p":"prolificacy_10","g":21,"s":"rm","k":0.1093},{"p":"prolificacy_10","g":21,"s":"rm","k":0.1174},
{"p":"prolificacy_10","g":22,"s":"rm","k":0.0887},{"p":"prolificacy_10","g":22,"s":"rm","k":0.1024},{"p":"prolificacy_10","g":22,"s":"rm","k":0.1102},{"p":"prolificacy_10","g":22,"s":"rm","k":0.1183},
{"p":"prolificacy_10","g":23,"s":"rm","k":0.0904},{"p":"prolificacy_10","g":23,"s":"rm","k":0.1042},{"p":"prolificacy_10","g":23,"s":"rm","k":0.1121},{"p":"prolificacy_10","g":23,"s":"rm","k":0.1203},
{"p":"prolificacy_10","g":24,"s":"rm","k":0.0908},{"p":"prolificacy_10","g":24,"s":"rm","k":0.1053},{"p":"prolificacy_10","g":24,"s":"rm","k":0.1135},{"p":"prolificacy_10","g":24,"s":"rm","k":0.1221},
{"p":"prolificacy_10","g":25,"s":"rm","k":0.0913},{"p":"prolificacy_10","g":25,"s":"rm","k":0.1064},{"p":"prolificacy_10","g":25,"s":"rm","k":0.1149},{"p":"prolificacy_10","g":25,"s":"rm","k":0.1239},
{"p":"prolificacy_10","g":26,"s":"rm","k":0.0926},{"p":"prolificacy_10","g":26,"s":"rm","k":0.1080},{"p":"prolificacy_10","g":26,"s":"rm","k":0.1167},{"p":"prolificacy_10","g":26,"s":"rm","k":0.1258},
{"p":"prolificacy_10","g":27,"s":"rm","k":0.0948},{"p":"prolificacy_10","g":27,"s":"rm","k":0.1101},{"p":"prolificacy_10","g":27,"s":"rm","k":0.1188},{"p":"prolificacy_10","g":27,"s":"rm","k":0.1279},
{"p":"prolificacy_10","g":28,"s":"rm","k":0.0932},{"p":"prolificacy_10","g":28,"s":"rm","k":0.1108},{"p":"prolificacy_10","g":28,"s":"rm","k":0.1208},{"p":"prolificacy_10","g":28,"s":"rm","k":0.1312},
{"p":"prolificacy_10","g":29,"s":"rm","k":0.0952},{"p":"prolificacy_10","g":29,"s":"rm","k":0.1126},{"p":"prolificacy_10","g":29,"s":"rm","k":0.1225},{"p":"prolificacy_10","g":29,"s":"rm","k":0.1328},
{"p":"prolificacy_10","g":30,"s":"rm","k":0.0948},{"p":"prolificacy_10","g":30,"s":"rm","k":0.1138},{"p":"prolificacy_10","g":30,"s":"rm","k":0.1246},{"p":"prolificacy_10","g":30,"s":"rm","k":0.1359},
{"p":"prolificacy_10","g":31,"s":"rm","k":0.0972},{"p":"prolificacy_10","g":31,"s":"rm","k":0.1152},{"p":"prolificacy_10","g":31,"s":"rm","k":0.1254},{"p":"prolificacy_10","g":31,"s":"rm","k":0.1361},
{"p":"prolificacy_10","g":32,"s":"rm","k":0.0988},{"p":"prolificacy_10","g":32,"s":"rm","k":0.1174},{"p":"prolificacy_10","g":32,"s":"rm","k":0.1279},{"p":"prolificacy_10","g":32,"s":"rm","k":0.1390},
{"p":"prolificacy_10","g":33,"s":"rm","k":0.0992},{"p":"prolificacy_10","g":33,"s":"rm","k":0.1180},{"p":"prolificacy_10","g":33,"s":"rm","k":0.1287},{"p":"prolificacy_10","g":33,"s":"rm","k":0.1399},
{"p":"prolificacy_10","g":34,"s":"rm","k":0.1001},{"p":"prolificacy_10","g":34,"s":"rm","k":0.1198},{"p":"prolificacy_10","g":34,"s":"rm","k":0.1310},{"p":"prolificacy_10","g":34,"s":"rm","k":0.1427},
{"p":"prolificacy_10","g":35,"s":"rm","k":0.0989},{"p":"prolificacy_10","g":35,"s":"rm","k":0.1199},{"p":"prolificacy_10","g":35,"s":"rm","k":0.1318},{"p":"prolificacy_10","g":35,"s":"rm","k":0.1443},
{"p":"prolificacy_1","g":20,"s":"max_GD","c":"no_cryo","fit":0.1025,"lo":0.0989,"hi":0.1061},{"p":"prolificacy_1","g":22,"s":"max_GD","c":"no_cryo","fit":0.1067,"lo":0.1037,"hi":0.1097},{"p":"prolificacy_1","g":24,"s":"max_GD","c":"no_cryo","fit":0.1109,"lo":0.1085,"hi":0.1133},{"p":"prolificacy_1","g":26,"s":"max_GD","c":"no_cryo","fit":0.1151,"lo":0.1131,"hi":0.1171},{"p":"prolificacy_1","g":27.5,"s":"max_GD","c":"no_cryo","fit":0.1183,"lo":0.1164,"hi":0.1202},{"p":"prolificacy_1","g":29,"s":"max_GD","c":"no_cryo","fit":0.1214,"lo":0.1194,"hi":0.1234},{"p":"prolificacy_1","g":31,"s":"max_GD","c":"no_cryo","fit":0.1256,"lo":0.1232,"hi":0.1280},{"p":"prolificacy_1","g":33,"s":"max_GD","c":"no_cryo","fit":0.1298,"lo":0.1268,"hi":0.1328},{"p":"prolificacy_1","g":35,"s":"max_GD","c":"no_cryo","fit":0.1340,"lo":0.1304,"hi":0.1376},
{"p":"prolificacy_1","g":20,"s":"rm","c":"no_cryo","fit":0.1025,"lo":0.0994,"hi":0.1056},{"p":"prolificacy_1","g":22,"s":"rm","c":"no_cryo","fit":0.1047,"lo":0.1022,"hi":0.1072},{"p":"prolificacy_1","g":24,"s":"rm","c":"no_cryo","fit":0.1068,"lo":0.1048,"hi":0.1088},{"p":"prolificacy_1","g":26,"s":"rm","c":"no_cryo","fit":0.1090,"lo":0.1073,"hi":0.1107},{"p":"prolificacy_1","g":27.5,"s":"rm","c":"no_cryo","fit":0.1106,"lo":0.1090,"hi":0.1122},{"p":"prolificacy_1","g":29,"s":"rm","c":"no_cryo","fit":0.1122,"lo":0.1105,"hi":0.1139},{"p":"prolificacy_1","g":31,"s":"rm","c":"no_cryo","fit":0.1144,"lo":0.1124,"hi":0.1164},{"p":"prolificacy_1","g":33,"s":"rm","c":"no_cryo","fit":0.1165,"lo":0.1140,"hi":0.1190},{"p":"prolificacy_1","g":35,"s":"rm","c":"no_cryo","fit":0.1187,"lo":0.1156,"hi":0.1218},
{"p":"prolificacy_1","g":20,"s":"max_GD","c":"cryo","fit":0.1020,"lo":0.0980,"hi":0.1060},{"p":"prolificacy_1","g":22,"s":"max_GD","c":"cryo","fit":0.1031,"lo":0.0998,"hi":0.1064},{"p":"prolificacy_1","g":24,"s":"max_GD","c":"cryo","fit":0.1042,"lo":0.1016,"hi":0.1068},{"p":"prolificacy_1","g":26,"s":"max_GD","c":"cryo","fit":0.1053,"lo":0.1031,"hi":0.1075},{"p":"prolificacy_1","g":27.5,"s":"max_GD","c":"cryo","fit":0.1061,"lo":0.1040,"hi":0.1082},{"p":"prolificacy_1","g":29,"s":"max_GD","c":"cryo","fit":0.1069,"lo":0.1047,"hi":0.1091},{"p":"prolificacy_1","g":31,"s":"max_GD","c":"cryo","fit":0.1080,"lo":0.1054,"hi":0.1106},{"p":"prolificacy_1","g":33,"s":"max_GD","c":"cryo","fit":0.1091,"lo":0.1058,"hi":0.1124},{"p":"prolificacy_1","g":35,"s":"max_GD","c":"cryo","fit":0.1102,"lo":0.1062,"hi":0.1142},
{"p":"prolificacy_1","g":20,"s":"rm","c":"cryo","fit":0.1020,"lo":0.0982,"hi":0.1058},{"p":"prolificacy_1","g":22,"s":"rm","c":"cryo","fit":0.1028,"lo":0.0997,"hi":0.1059},{"p":"prolificacy_1","g":24,"s":"rm","c":"cryo","fit":0.1035,"lo":0.1010,"hi":0.1060},{"p":"prolificacy_1","g":26,"s":"rm","c":"cryo","fit":0.1043,"lo":0.1022,"hi":0.1064},{"p":"prolificacy_1","g":27.5,"s":"rm","c":"cryo","fit":0.1049,"lo":0.1029,"hi":0.1069},{"p":"prolificacy_1","g":29,"s":"rm","c":"cryo","fit":0.1054,"lo":0.1033,"hi":0.1075},{"p":"prolificacy_1","g":31,"s":"rm","c":"cryo","fit":0.1062,"lo":0.1037,"hi":0.1087},{"p":"prolificacy_1","g":33,"s":"rm","c":"cryo","fit":0.1069,"lo":0.1038,"hi":0.1100},{"p":"prolificacy_1","g":35,"s":"rm","c":"cryo","fit":0.1077,"lo":0.1039,"hi":0.1115},
{"p":"prolificacy_2","g":20,"s":"max_GD","c":"no_cryo","fit":0.1025,"lo":0.0985,"hi":0.1065},{"p":"prolificacy_2","g":22,"s":"max_GD","c":"no_cryo","fit":0.1071,"lo":0.1038,"hi":0.1104},{"p":"prolificacy_2","g":24,"s":"max_GD","c":"no_cryo","fit":0.1118,"lo":0.1092,"hi":0.1144},{"p":"prolificacy_2","g":26,"s":"max_GD","c":"no_cryo","fit":0.1164,"lo":0.1142,"hi":0.1186},{"p":"prolificacy_2","g":27.5,"s":"max_GD","c":"no_cryo","fit":0.1199,"lo":0.1178,"hi":0.1220},{"p":"prolificacy_2","g":29,"s":"max_GD","c":"no_cryo","fit":0.1234,"lo":0.1212,"hi":0.1256},{"p":"prolificacy_2","g":31,"s":"max_GD","c":"no_cryo","fit":0.1280,"lo":0.1254,"hi":0.1306},{"p":"prolificacy_2","g":33,"s":"max_GD","c":"no_cryo","fit":0.1327,"lo":0.1294,"hi":0.1360},{"p":"prolificacy_2","g":35,"s":"max_GD","c":"no_cryo","fit":0.1373,"lo":0.1333,"hi":0.1413},
{"p":"prolificacy_2","g":20,"s":"rm","c":"no_cryo","fit":0.1025,"lo":0.0993,"hi":0.1058},{"p":"prolificacy_2","g":22,"s":"rm","c":"no_cryo","fit":0.1048,"lo":0.1022,"hi":0.1075},{"p":"prolificacy_2","g":24,"s":"rm","c":"no_cryo","fit":0.1070,"lo":0.1049,"hi":0.1091},{"p":"prolificacy_2","g":26,"s":"rm","c":"no_cryo","fit":0.1093,"lo":0.1075,"hi":0.1111},{"p":"prolificacy_2","g":27.5,"s":"rm","c":"no_cryo","fit":0.1110,"lo":0.1093,"hi":0.1127},{"p":"prolificacy_2","g":29,"s":"rm","c":"no_cryo","fit":0.1127,"lo":0.1109,"hi":0.1145},{"p":"prolificacy_2","g":31,"s":"rm","c":"no_cryo","fit":0.1150,"lo":0.1129,"hi":0.1171},{"p":"prolificacy_2","g":33,"s":"rm","c":"no_cryo","fit":0.1172,"lo":0.1145,"hi":0.1199},{"p":"prolificacy_2","g":35,"s":"rm","c":"no_cryo","fit":0.1195,"lo":0.1163,"hi":0.1228},
{"p":"prolificacy_2","g":20,"s":"max_GD","c":"cryo","fit":0.1020,"lo":0.0978,"hi":0.1062},{"p":"prolificacy_2","g":22,"s":"max_GD","c":"cryo","fit":0.1032,"lo":0.0998,"hi":0.1066},{"p":"prolificacy_2","g":24,"s":"max_GD","c":"cryo","fit":0.1045,"lo":0.1017,"hi":0.1073},{"p":"prolificacy_2","g":26,"s":"max_GD","c":"cryo","fit":0.1057,"lo":0.1034,"hi":0.1080},{"p":"prolificacy_2","g":27.5,"s":"max_GD","c":"cryo","fit":0.1066,"lo":0.1044,"hi":0.1088},{"p":"prolificacy_2","g":29,"s":"max_GD","c":"cryo","fit":0.1075,"lo":0.1052,"hi":0.1098},{"p":"prolificacy_2","g":31,"s":"max_GD","c":"cryo","fit":0.1087,"lo":0.1059,"hi":0.1115},{"p":"prolificacy_2","g":33,"s":"max_GD","c":"cryo","fit":0.1100,"lo":0.1066,"hi":0.1134},{"p":"prolificacy_2","g":35,"s":"max_GD","c":"cryo","fit":0.1112,"lo":0.1070,"hi":0.1154},
{"p":"prolificacy_2","g":20,"s":"rm","c":"cryo","fit":0.1020,"lo":0.0980,"hi":0.1060},{"p":"prolificacy_2","g":22,"s":"rm","c":"cryo","fit":0.1028,"lo":0.0995,"hi":0.1061},{"p":"prolificacy_2","g":24,"s":"rm","c":"cryo","fit":0.1037,"lo":0.1011,"hi":0.1063},{"p":"prolificacy_2","g":26,"s":"rm","c":"cryo","fit":0.1045,"lo":0.1023,"hi":0.1067},{"p":"prolificacy_2","g":27.5,"s":"rm","c":"cryo","fit":0.1051,"lo":0.1030,"hi":0.1072},{"p":"prolificacy_2","g":29,"s":"rm","c":"cryo","fit":0.1057,"lo":0.1035,"hi":0.1079},{"p":"prolificacy_2","g":31,"s":"rm","c":"cryo","fit":0.1065,"lo":0.1039,"hi":0.1091},{"p":"prolificacy_2","g":33,"s":"rm","c":"cryo","fit":0.1074,"lo":0.1041,"hi":0.1107},{"p":"prolificacy_2","g":35,"s":"rm","c":"cryo","fit":0.1082,"lo":0.1042,"hi":0.1122},
{"p":"prolificacy_10","g":20,"s":"max_GD","c":"no_cryo","fit":0.1028,"lo":0.0996,"hi":0.1061},{"p":"prolificacy_10","g":22,"s":"max_GD","c":"no_cryo","fit":0.1099,"lo":0.1073,"hi":0.1126},{"p":"prolificacy_10","g":24,"s":"max_GD","c":"no_cryo","fit":0.1171,"lo":0.1150,"hi":0.1192},{"p":"prolificacy_10","g":26,"s":"max_GD","c":"no_cryo","fit":0.1242,"lo":0.1224,"hi":0.1260},{"p":"prolificacy_10","g":27.5,"s":"max_GD","c":"no_cryo","fit":0.1296,"lo":0.1279,"hi":0.1313},{"p":"prolificacy_10","g":29,"s":"max_GD","c":"no_cryo","fit":0.1349,"lo":0.1331,"hi":0.1367},{"p":"prolificacy_10","g":31,"s":"max_GD","c":"no_cryo","fit":0.1420,"lo":0.1399,"hi":0.1441},{"p":"prolificacy_10","g":33,"s":"max_GD","c":"no_cryo","fit":0.1492,"lo":0.1465,"hi":0.1519},{"p":"prolificacy_10","g":35,"s":"max_GD","c":"no_cryo","fit":0.1563,"lo":0.1531,"hi":0.1596},
{"p":"prolificacy_10","g":20,"s":"rm","c":"no_cryo","fit":0.1028,"lo":0.0994,"hi":0.1062},{"p":"prolificacy_10","g":22,"s":"rm","c":"no_cryo","fit":0.1068,"lo":0.1040,"hi":0.1096},{"p":"prolificacy_10","g":24,"s":"rm","c":"no_cryo","fit":0.1108,"lo":0.1085,"hi":0.1131},{"p":"prolificacy_10","g":26,"s":"rm","c":"no_cryo","fit":0.1148,"lo":0.1129,"hi":0.1167},{"p":"prolificacy_10","g":27.5,"s":"rm","c":"no_cryo","fit":0.1178,"lo":0.1160,"hi":0.1196},{"p":"prolificacy_10","g":29,"s":"rm","c":"no_cryo","fit":0.1207,"lo":0.1188,"hi":0.1226},{"p":"prolificacy_10","g":31,"s":"rm","c":"no_cryo","fit":0.1247,"lo":0.1224,"hi":0.1270},{"p":"prolificacy_10","g":33,"s":"rm","c":"no_cryo","fit":0.1287,"lo":0.1259,"hi":0.1315},{"p":"prolificacy_10","g":35,"s":"rm","c":"no_cryo","fit":0.1327,"lo":0.1293,"hi":0.1361},
{"p":"prolificacy_10","g":20,"s":"max_GD","c":"cryo","fit":0.1028,"lo":0.0988,"hi":0.1068},{"p":"prolificacy_10","g":22,"s":"max_GD","c":"cryo","fit":0.1056,"lo":0.1023,"hi":0.1089},{"p":"prolificacy_10","g":24,"s":"max_GD","c":"cryo","fit":0.1083,"lo":0.1057,"hi":0.1109},{"p":"prolificacy_10","g":26,"s":"max_GD","c":"cryo","fit":0.1108,"lo":0.1086,"hi":0.1130},{"p":"prolificacy_10","g":27.5,"s":"max_GD","c":"cryo","fit":0.1127,"lo":0.1106,"hi":0.1148},{"p":"prolificacy_10","g":29,"s":"max_GD","c":"cryo","fit":0.1145,"lo":0.1123,"hi":0.1167},{"p":"prolificacy_10","g":31,"s":"max_GD","c":"cryo","fit":0.1166,"lo":0.1140,"hi":0.1192},{"p":"prolificacy_10","g":33,"s":"max_GD","c":"cryo","fit":0.1186,"lo":0.1153,"hi":0.1219},{"p":"prolificacy_10","g":35,"s":"max_GD","c":"cryo","fit":0.1203,"lo":0.1163,"hi":0.1243},
{"p":"prolificacy_10","g":20,"s":"rm","c":"cryo","fit":0.1028,"lo":0.0990,"hi":0.1066},{"p":"prolificacy_10","g":22,"s":"rm","c":"cryo","fit":0.1046,"lo":0.1015,"hi":0.1077},{"p":"prolificacy_10","g":24,"s":"rm","c":"cryo","fit":0.1063,"lo":0.1038,"hi":0.1088},{"p":"prolificacy_10","g":26,"s":"rm","c":"cryo","fit":0.1079,"lo":0.1058,"hi":0.1100},{"p":"prolificacy_10","g":27.5,"s":"rm","c":"cryo","fit":0.1090,"lo":0.1070,"hi":0.1110},{"p":"prolificacy_10","g":29,"s":"rm","c":"cryo","fit":0.1100,"lo":0.1079,"hi":0.1121},{"p":"prolificacy_10","g":31,"s":"rm","c":"cryo","fit":0.1111,"lo":0.1086,"hi":0.1136},{"p":"prolificacy_10","g":33,"s":"rm","c":"cryo","fit":0.1120,"lo":0.1089,"hi":0.1151},{"p":"prolificacy_10","g":35,"s":"rm","c":"cryo","fit":0.1126,"lo":0.1088,"hi":0.1164}
]},
"facet": {"column": {"field": "p", "type": "nominal", "sort": ["prolificacy_1", "prolificacy_2", "prolificacy_10"],
  "header": {"labels": false, "title": "Generations", "titleOrient": "bottom", "titleFontSize": 20, "titleFontWeight": "bold", "titleFontStyle": "italic", "titleColor": "#000000", "titlePadding": -7, "titleFont": "Liberation Sans"}}},
"spacing": 6,
"spec": {
  "width": 409, "height": 395,
  "layer": [
    {"transform": [{"filter": "isValid(datum.k)"}],
     "mark": {"type": "circle", "size": 34, "opacity": 0.33},
     "encoding": {
       "x": {"field": "g", "type": "quantitative", "title": null,
             "scale": {"domain": [19.25, 35.75], "nice": false, "zero": false},
             "axis": {"values": [20, 22.5, 25, 27.5, 30, 32.5, 35], "labelExpr": "datum.value % 5 === 0 ? datum.label : ''",
                      "tickOpacity": {"condition": {"test": "datum.value % 5 === 0", "value": 1}, "value": 0},
                      "gridWidth": {"condition": {"test": "datum.value % 5 === 0", "value": 1.6}, "value": 0.8},
                      "gridColor": "#EBEBEB", "tickColor": "#333333", "tickSize": 5, "tickWidth": 1.2,
                      "labelFontSize": 18, "labelColor": "#000000", "labelPadding": 3, "domain": false,
                      "labelFlush": false, "labelOverlap": false, "title": null}},
       "y": {"field": "k", "type": "quantitative", "title": "Kinship",
             "scale": {"domain": [0.0769, 0.1939], "nice": false, "zero": false},
             "axis": {"values": [0.0875, 0.1, 0.1125, 0.125, 0.1375, 0.15, 0.1625, 0.175], "format": ".3f",
                      "labelExpr": "abs(datum.value*40 - round(datum.value*40)) < 0.01 ? datum.label : ''",
                      "tickOpacity": {"condition": {"test": "abs(datum.value*40 - round(datum.value*40)) < 0.01", "value": 1}, "value": 0},
                      "gridWidth": {"condition": {"test": "abs(datum.value*40 - round(datum.value*40)) < 0.01", "value": 1.6}, "value": 0.8},
                      "gridColor": "#EBEBEB", "tickColor": "#333333", "tickSize": 6, "tickWidth": 1.2,
                      "labelFontSize": 18, "labelColor": "#000000", "labelPadding": 4, "domain": false,
                      "labelOverlap": false, "title": "Kinship", "titleFontSize": 20, "titleFontWeight": "bold",
                      "titleFontStyle": "italic", "titleColor": "#000000", "titlePadding": 5}},
       "color": {"field": "s", "type": "nominal", "title": "Scenario", "scale": {"domain": ["max_GD", "rm"], "range": ["#1C77D2", "#333333"]},
                 "legend": {"orient": "none", "legendX": 208, "legendY": 479, "symbolType": "stroke", "symbolStrokeWidth": 3.5, "symbolSize": 700, "symbolOpacity": 1}}
     }},
    {"transform": [{"filter": "isValid(datum.fit)"}],
     "mark": {"type": "area", "color": "#999999", "opacity": 0.4},
     "encoding": {
       "x": {"field": "g", "type": "quantitative", "title": null},
       "y": {"field": "lo", "type": "quantitative", "title": "Kinship"},
       "y2": {"field": "hi"},
       "detail": [{"field": "s"}, {"field": "c"}]
     }},
    {"transform": [{"filter": "isValid(datum.fit)"}],
     "mark": {"type": "line", "strokeWidth": 3},
     "encoding": {
       "x": {"field": "g", "type": "quantitative", "title": null},
       "y": {"field": "fit", "type": "quantitative", "title": "Kinship"},
       "color": {"field": "s", "type": "nominal", "title": "Scenario",
                 "legend": {"orient": "none", "legendX": 208, "legendY": 479, "symbolType": "stroke", "symbolStrokeWidth": 3.5, "symbolSize": 700, "symbolOpacity": 1}},
       "strokeDash": {"field": "c", "type": "nominal", "title": "Use of ex situ genetic resources",
                      "scale": {"domain": ["cryo", "no_cryo"], "range": [[11, 6], [1, 0]]},
                      "legend": {"orient": "none", "legendX": 528, "legendY": 479, "symbolType": "stroke", "symbolStrokeWidth": 3.5, "symbolSize": 700, "symbolStrokeColor": "#3366FF", "symbolOpacity": 1}}
     }},
    {"transform": [{"aggregate": [{"op": "count", "as": "n"}], "groupby": ["p"]}],
     "mark": {"type": "rect", "fill": "#D9D9D9", "stroke": "#333333", "strokeWidth": 1.2},
     "encoding": {
       "x": {"datum": 19.25}, "x2": {"datum": 35.75},
       "y": {"datum": 0.18415}, "y2": {"datum": 0.1939}
     }},
    {"transform": [{"aggregate": [{"op": "count", "as": "n"}], "groupby": ["p"]}],
     "mark": {"type": "text", "fontSize": 16, "color": "#1A1A1A", "baseline": "middle", "align": "center"},
     "encoding": {
       "x": {"datum": 27.5}, "y": {"datum": 0.18904},
       "text": {"field": "p", "type": "nominal"}
     }}
  ]
},
"config": {
  "font": "Liberation Sans",
  "view": {"stroke": "#333333", "strokeWidth": 1.2},
  "legend": {"direction": "horizontal", "titleOrient": "left", "titleLimit": 500,
             "titleFontSize": 20, "titleFontWeight": "bold", "titleFontStyle": "italic", "titleColor": "#000000",
             "labelFontSize": 16, "labelColor": "#000000", "titlePadding": 10, "labelOffset": 12, "columnPadding": 4}
}
}
